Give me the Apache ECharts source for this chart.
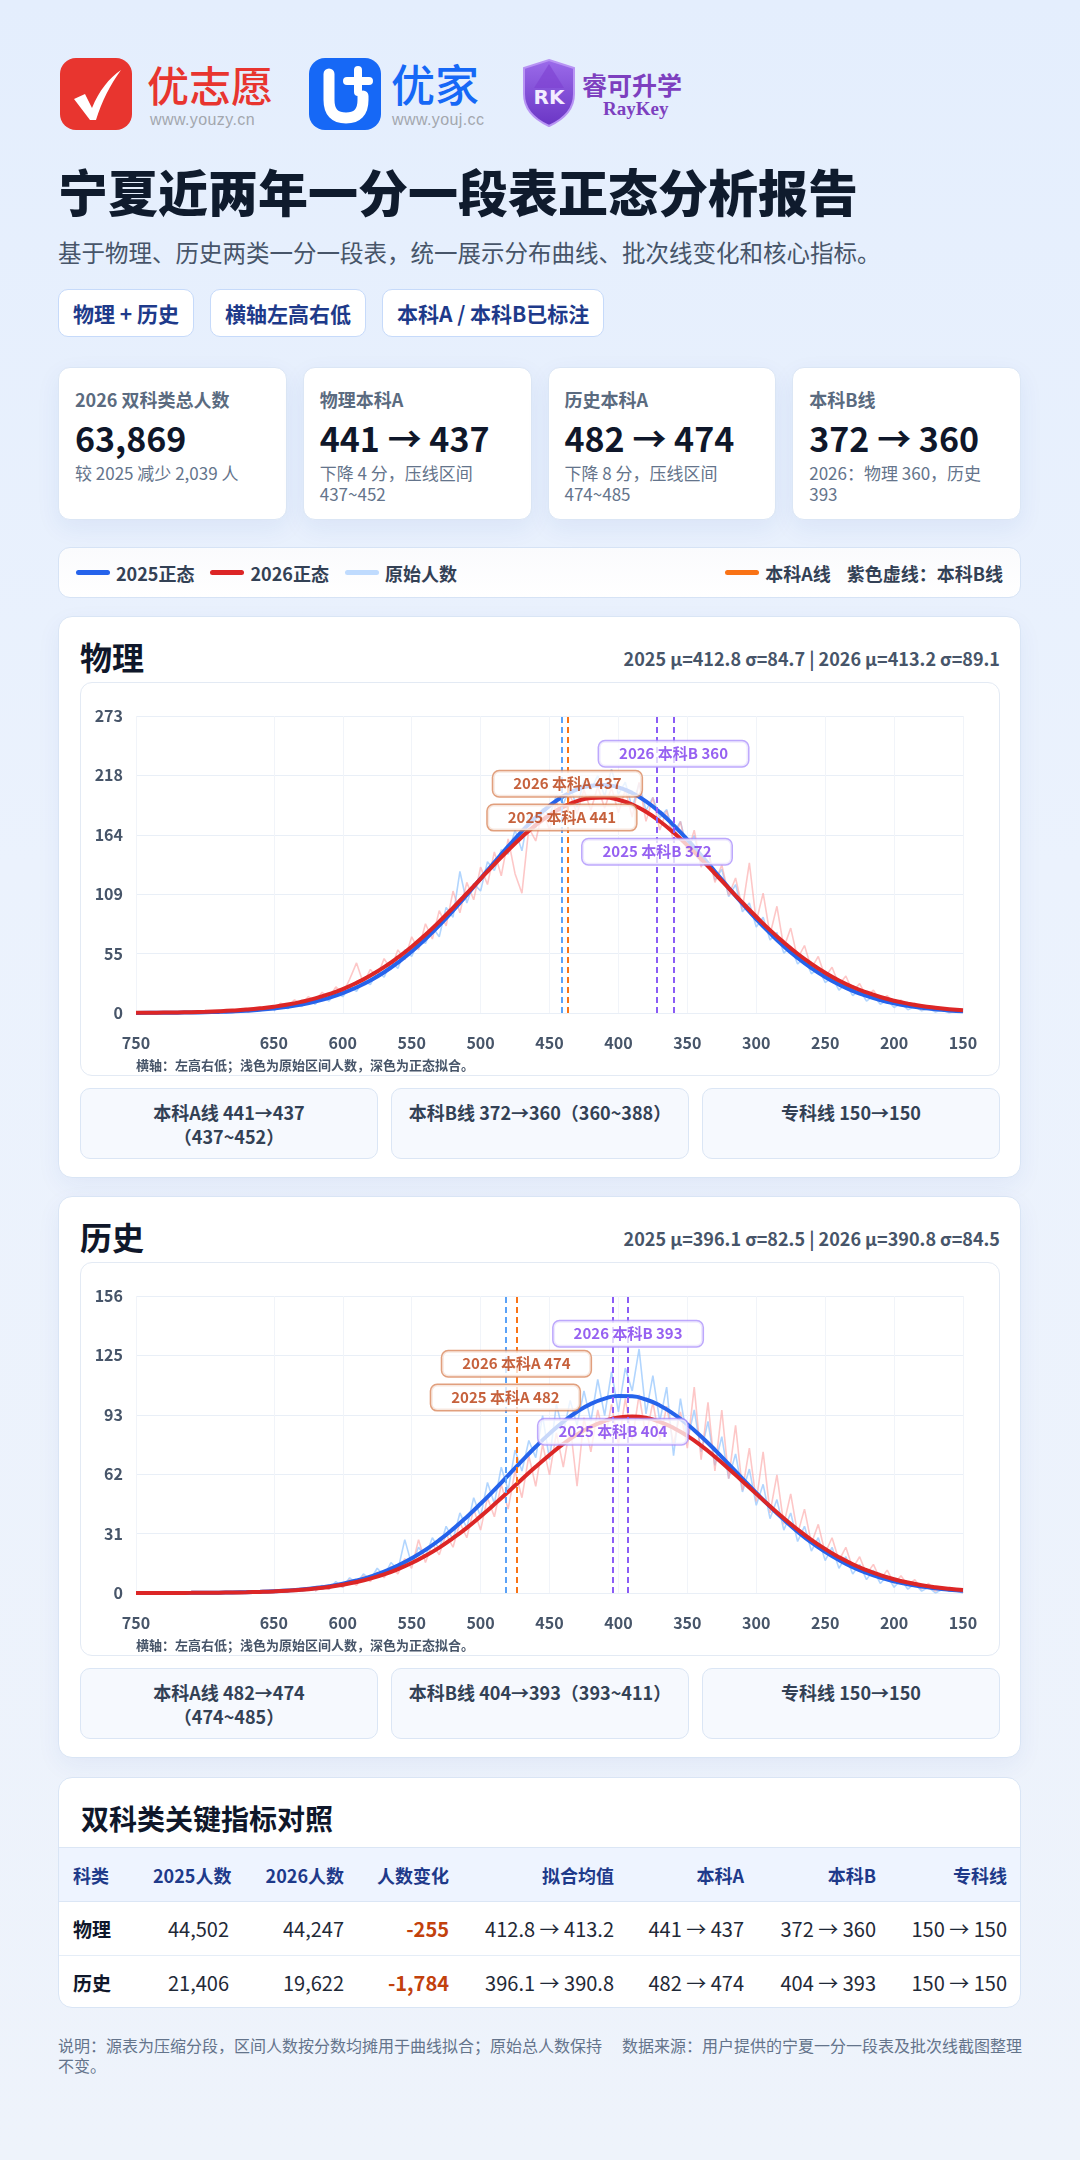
<!DOCTYPE html>
<html lang="zh-CN">
<head>
<meta charset="utf-8">
<title>宁夏近两年一分一段表正态分析报告</title>
<script src="https://cdn.jsdelivr.net/npm/echarts@6.0.0/dist/echarts.min.js"></script>
<style>
*{box-sizing:border-box;margin:0;padding:0}
html,body{width:1080px;height:2160px}
body{font-family:"Noto Sans CJK SC","Noto Sans",sans-serif;background:linear-gradient(180deg,#e4eefd 0%,#ebf2fd 40%,#eef3fb 100%);position:relative;overflow:hidden;color:#0f172a}
.abs{position:absolute}
.brand{font-weight:500;line-height:1}
.url{font-family:"Liberation Sans",Arial,sans-serif;font-size:16px;color:#a3a7ae;letter-spacing:0.4px;line-height:1}
.title{left:58px;top:160px;font-size:50px;font-weight:900;line-height:60px;color:#0f1b2d}
.subtitle{left:58px;top:238px;font-size:23.5px;line-height:28px;color:#475569}
.tags{left:58px;top:289px;display:flex;gap:16px}
.tag{height:48px;border:1px solid #c6dafa;border-radius:10px;background:#fff;padding:0 14px;font-size:21px;font-weight:700;line-height:46px;color:#1e3a8a}
.cards{left:58px;top:367px;width:963px;display:grid;grid-template-columns:repeat(4,1fr);gap:16px}
.card{height:153px;background:#fff;border:1px solid #dbe6f5;border-radius:12px;box-shadow:0 8px 24px rgba(30,64,175,0.07);padding:18px 16px}
.card .lab{font-size:18px;font-weight:700;line-height:26px;color:#5b6b80}
.card .num{font-size:34px;font-weight:700;line-height:44px;margin-top:4px;color:#0f172a}
.card .sub{font-size:17px;line-height:21px;margin-top:2px;color:#64748b}
.legend{left:58px;top:547px;width:963px;height:51px;background:linear-gradient(180deg,#fafbfd,#ffffff);border:1px solid #d6e3f5;border-radius:12px;display:flex;align-items:center;padding:0 17px;font-size:18px;font-weight:700;color:#334155}
.legend .it{display:flex;align-items:center;margin-right:16px}
.legend .ln{width:34px;height:5px;border-radius:3px;margin-right:6px}
.legend .sp{flex:1}
.panel{left:58px;width:963px;height:562px;background:#fff;border:1px solid #d9e5f5;border-radius:14px;box-shadow:0 8px 24px rgba(30,64,175,0.06)}
.ptitle{position:absolute;left:21px;top:19px;font-size:32px;font-weight:700;line-height:40px;color:#0f172a}
.pstat{position:absolute;right:20px;top:29px;font-size:18px;font-weight:700;line-height:24px;color:#475569}
.chartbox{position:absolute;left:21px;top:65px;width:920px;height:394px;border:1px solid #e3eaf4;border-radius:12px;overflow:hidden}
.chart{position:absolute;left:-1px;top:-1px;width:920px;height:394px}
.subcards{position:absolute;left:21px;top:471px;width:920px;display:grid;grid-template-columns:repeat(3,1fr);gap:13px}
.sc{height:71px;background:#f6f9fe;border:1px solid #dbe6f5;border-radius:10px;text-align:center;padding-top:11px;font-size:18px;font-weight:700;line-height:24px;color:#334155;white-space:nowrap}
.tpanel{left:58px;top:1777px;width:963px;height:231px;background:#fff;border:1px solid #d9e5f5;border-radius:14px;overflow:hidden}
.tpanel h2{position:absolute;left:22px;top:20px;font-size:28px;font-weight:700;line-height:40px;color:#0f172a}
table{position:absolute;left:0;top:69px;width:962px;border-collapse:collapse;table-layout:fixed}
th,td{padding:0 14px;text-align:right;white-space:nowrap}
th{height:54px;background:#eef4ff;color:#1e3a8a;font-weight:700;font-size:18px;border-top:1px solid #dbe6f5;border-bottom:1px solid #dbe6f5}
td{height:54px;color:#1f2937;font-size:20px;border-bottom:1px solid #e5edf7}
tr:last-child td{border-bottom:none}
th:first-child,td:first-child{text-align:left}
td.rk{font-weight:700;color:#0f172a;font-size:19px}
td.neg{font-weight:700;color:#c2410c}
.foot{top:2035px;font-size:16px;line-height:20px;color:#64748b}
</style>
</head>
<body>

<!-- brand logos -->
<svg class="abs" style="left:60px;top:58px" width="72" height="72" viewBox="0 0 72 72">
  <rect width="72" height="72" rx="16" fill="#e8352f"/>
  <path d="M14 41 L25 36 L32 50 C39 33 49 20 61 12 C50 27 42 43 36 62 L30 62 Z" fill="#fff"/>
</svg>
<div class="abs brand" style="left:147px;top:63px;font-size:42px;color:#e8352f">优志愿</div>
<div class="abs url" style="left:150px;top:112px">www.youzy.cn</div>

<svg class="abs" style="left:309px;top:58px" width="72" height="72" viewBox="0 0 72 72">
  <rect width="72" height="72" rx="16" fill="#1668f6"/>
  <path d="M20 16 V42 Q20 60 37 60 Q54 60 54 42 V38" fill="none" stroke="#fff" stroke-width="11" stroke-linecap="round"/>
  <path d="M49 12 V34 M38 23 H60" stroke="#fff" stroke-width="8" stroke-linecap="round"/>
</svg>
<div class="abs brand" style="left:391px;top:61px;font-size:44px;color:#1668f6">优家</div>
<div class="abs url" style="left:392px;top:112px">www.youj.cc</div>

<svg class="abs" style="left:520px;top:58px" width="58" height="70" viewBox="0 0 58 70">
  <defs>
    <linearGradient id="sg" x1="0" y1="0" x2="0" y2="1">
      <stop offset="0" stop-color="#9b6bea"/><stop offset="1" stop-color="#6a35c4"/>
    </linearGradient>
  </defs>
  <path d="M29 2 L54 10 V36 C54 52 42 62 29 68 C16 62 4 52 4 36 V10 Z" fill="url(#sg)" stroke="#b894f4" stroke-width="2"/>
  <path d="M29 6 L44 30 L29 30 L14 30 Z" fill="#7d3fd0" opacity="0.6"/>
  <text x="29" y="46" text-anchor="middle" font-family="DejaVu Sans" font-weight="bold" font-size="20" fill="#f3ecff">RK</text>
</svg>
<div class="abs" style="left:582px;top:70px;font-size:25px;font-weight:700;line-height:28px;color:#7d3fbf">睿可升学</div>
<div class="abs" style="left:603px;top:99px;font-family:'Liberation Serif',serif;font-size:19px;font-weight:700;line-height:20px;color:#7d3fbf">RayKey</div>

<div class="abs title">宁夏近两年一分一段表正态分析报告</div>
<div class="abs subtitle">基于物理、历史两类一分一段表，统一展示分布曲线、批次线变化和核心指标。</div>

<div class="abs tags">
  <div class="tag">物理 + 历史</div>
  <div class="tag">横轴左高右低</div>
  <div class="tag">本科A / 本科B已标注</div>
</div>

<div class="abs cards">
  <div class="card"><div class="lab">2026 双科类总人数</div><div class="num">63,869</div><div class="sub">较 2025 减少 2,039 人</div></div>
  <div class="card"><div class="lab">物理本科A</div><div class="num">441 → 437</div><div class="sub">下降 4 分，压线区间 437~452</div></div>
  <div class="card"><div class="lab">历史本科A</div><div class="num">482 → 474</div><div class="sub">下降 8 分，压线区间 474~485</div></div>
  <div class="card"><div class="lab">本科B线</div><div class="num">372 → 360</div><div class="sub">2026：物理 360，历史 393</div></div>
</div>

<div class="abs legend">
  <div class="it"><span class="ln" style="background:#2563eb"></span>2025正态</div>
  <div class="it"><span class="ln" style="background:#dc2626"></span>2026正态</div>
  <div class="it"><span class="ln" style="background:#bfdbfe"></span>原始人数</div>
  <div class="sp"></div>
  <div class="it"><span class="ln" style="background:#f97316"></span>本科A线</div>
  <div class="it" style="margin-right:0">紫色虚线：本科B线</div>
</div>

<div class="abs panel" style="top:616px">
  <div class="ptitle">物理</div>
  <div class="pstat">2025 μ=412.8 σ=84.7 | 2026 μ=413.2 σ=89.1</div>
  <div class="chartbox"><div class="chart" id="chartPhy"></div></div>
  <div class="subcards">
    <div class="sc">本科A线 441→437<br>（437~452）</div>
    <div class="sc">本科B线 372→360（360~388）</div>
    <div class="sc">专科线 150→150</div>
  </div>
</div>

<div class="abs panel" style="top:1196px">
  <div class="ptitle">历史</div>
  <div class="pstat">2025 μ=396.1 σ=82.5 | 2026 μ=390.8 σ=84.5</div>
  <div class="chartbox"><div class="chart" id="chartHis"></div></div>
  <div class="subcards">
    <div class="sc">本科A线 482→474<br>（474~485）</div>
    <div class="sc">本科B线 404→393（393~411）</div>
    <div class="sc">专科线 150→150</div>
  </div>
</div>

<div class="abs tpanel">
  <h2>双科类关键指标对照</h2>
  <table>
    <colgroup><col style="width:80px"><col style="width:104px"><col style="width:115px"><col style="width:105px"><col style="width:165px"><col style="width:130px"><col style="width:132px"><col style="width:131px"></colgroup>
    <thead><tr><th>科类</th><th>2025人数</th><th>2026人数</th><th>人数变化</th><th>拟合均值</th><th>本科A</th><th>本科B</th><th>专科线</th></tr></thead>
    <tbody>
      <tr><td class="rk">物理</td><td>44,502</td><td>44,247</td><td class="neg">-255</td><td>412.8 → 413.2</td><td>441 → 437</td><td>372 → 360</td><td>150 → 150</td></tr>
      <tr><td class="rk">历史</td><td>21,406</td><td>19,622</td><td class="neg">-1,784</td><td>396.1 → 390.8</td><td>482 → 474</td><td>404 → 393</td><td>150 → 150</td></tr>
    </tbody>
  </table>
</div>

<div class="abs foot" style="left:58px;width:552px">说明：源表为压缩分段，区间人数按分数均摊用于曲线拟合；原始总人数保持不变。</div>
<div class="abs foot" style="left:622px;width:410px;white-space:nowrap">数据来源：用户提供的宁夏一分一段表及批次线截图整理</div>

<script>
// ---------- data ----------
const X_TICKS = [750, 650, 600, 550, 500, 450, 400, 350, 300, 250, 200, 150];

const CURVE_X = [750,740,730,720,710,700,690,680,670,660,650,640,630,620,610,600,590,580,570,560,550,540,530,520,510,500,490,480,470,460,450,440,430,420,410,400,390,380,370,360,350,340,330,320,310,300,290,280,270,260,250,240,230,220,210,200,190,180,170,160,150];

const PHY_FIT_2025 = [0.08,0.12,0.19,0.29,0.44,0.67,0.99,1.45,2.08,2.96,4.15,5.74,7.82,10.5,13.9,18.2,23.5,29.8,37.4,46.3,56.4,67.9,80.4,94.1,108.5,123.4,138.4,153.0,166.9,179.5,190.3,199.1,205.3,208.8,209.5,207.2,202.1,194.4,184.5,172.6,159.2,144.8,130.0,115.0,100.4,86.3,73.3,61.3,50.6,41.2,33.1,26.2,20.4,15.7,11.9,8.9,6.6,4.8,3.4,2.4,1.7];
const PHY_FIT_2026 = [0.16,0.24,0.36,0.53,0.77,1.11,1.59,2.24,3.11,4.28,5.80,7.76,10.3,13.4,17.3,22.0,27.7,34.4,42.1,51.0,60.9,71.9,83.9,96.6,109.8,123.3,136.6,149.5,161.7,172.6,181.9,189.3,194.6,197.5,198.0,195.9,191.5,184.8,176.1,165.7,154.0,141.4,128.1,114.6,101.3,88.4,76.1,64.8,54.4,45.2,37.0,29.9,23.9,18.9,14.7,11.3,8.6,6.4,4.8,3.5,2.5];
const HIS_FIT_2025 = [0.01,0.02,0.03,0.05,0.07,0.12,0.18,0.28,0.42,0.62,0.91,1.31,1.86,2.60,3.59,4.88,6.54,8.62,11.2,14.4,18.2,22.6,27.7,33.5,39.9,46.8,54.1,61.7,69.3,76.7,83.6,89.8,95.1,99.2,102.0,103.4,103.2,101.5,98.4,94.0,88.5,82.1,75.1,67.6,60.0,52.5,45.3,38.5,32.2,26.5,21.6,17.3,13.6,10.6,8.13,6.14,4.56,3.35,2.42,1.72,1.21];
const HIS_FIT_2026 = [0.01,0.02,0.03,0.05,0.07,0.11,0.18,0.26,0.39,0.58,0.84,1.20,1.68,2.34,3.20,4.32,5.75,7.55,9.77,12.5,15.7,19.5,23.8,28.8,34.2,40.2,46.5,53.0,59.7,66.2,72.4,78.2,83.2,87.2,90.2,92.1,92.6,91.9,89.8,86.6,82.4,77.3,71.5,65.2,58.6,52.0,45.5,39.2,33.3,27.9,23.1,18.8,15.1,12.0,9.39,7.24,5.50,4.12,3.05,2.22,1.60];

const PHY_RAW_X = [650,645,640,635,630,625,620,615,610,605,600,595,590,585,580,575,570,565,560,555,550,545,540,535,530,525,520,515,510,505,500,495,490,485,480,475,470,465,460,455,450,445,440,435,430,425,420,415,410,405,400,395,390,385,380,375,370,365,360,355,350,345,340,335,330,325,320,315,310,305,300,295,290,285,280,275,270,265,260,255,250,245,240,235,230,225,220,215,210,205,200,195,190,185,180,175,170,165,160,155,150];
const PHY_RAW_2025 = [2,7,4,9,6,12,8,15,11,19, 15,24,20,30,26,38,33,47,41,58, 52,66,64,79,70,97,88,130,101,119, 112,139,131,150,146,168,149,184,170,188, 181,200,192,207,189,214,205,218,199,224, 201,212,188,211,186,198,179,187,165,176, 150,163,136,149,122,132,107,118,93,101, 79,88,67,74,55,61,45,51,36,41, 28,33,21,27,16,21,11,16,8,12, 5,9,3,6,2,4,1,3,0,2, 1];
const PHY_RAW_2026 = [4,9,6,12,8,15,11,19,14,24, 18,31,46,27,40,33,50,40,58,49, 70,58,82,68,94,80,112,92,120,104, 134,118,148,126,160,128,110,170,158,186, 168,194,176,200,183,205,186,208,188,207, 184,205,180,212,176,198,168,186,157,176, 146,168,134,150,120,136,108,124,96,138, 84,110,72,98,60,78,50,62,41,52, 33,42,26,34,20,27,15,21,11,16, 8,12,5,9,3,6,2,4,1,3, 2];

const HIS_RAW_X = [620,615,610,605,600,595,590,585,580,575,570,565,560,555,550,545,540,535,530,525,520,515,510,505,500,495,490,485,480,475,470,465,460,455,450,445,440,435,430,425,420,415,410,405,400,395,390,385,380,375,370,365,360,355,350,345,340,335,330,325,320,315,310,305,300,295,290,285,280,275,270,265,260,255,250,245,240,235,230,225,220,215,210,205,200,195,190,185,180,175,170,165,160,155,150];
const HIS_RAW_2025 = [1,4,2,6,3,8,5,10,7,13, 9,16,12,28,15,24,19,29,23,35, 28,42,34,50,40,58,47,66,54,75, 64,80,71,93,70,99,84,101,88,106, 90,112,93,116,95,118,106,128,94,114, 90,108,72,102,80,96,74,90,67,82, 60,73,53,65,46,57,39,49,33,42, 27,35,22,29,17,24,13,19,10,15, 7,12,5,9,3,7,2,5,1,3, 0,2,1,1,0];
const HIS_RAW_2026 = [1,3,2,5,3,7,4,9,6,11, 8,14,10,18,13,28,16,26,20,31, 24,37,29,44,33,50,40,57,44,64, 50,72,56,78,62,84,66,88,56,92, 74,96,80,99,78,102,80,104,82,100, 80,98,78,95,76,108,70,100,64,96, 60,88,54,76,48,74,42,62,36,52, 31,44,26,36,21,29,17,24,13,19, 10,15,7,12,5,9,4,7,2,5, 1,3,1,2,0];

const CUT_NAMES = ['2025 本科A', '2026 本科A', '2025 本科B', '2026 本科B'];
const PHY_CUTS = [441, 437, 372, 360];
const HIS_CUTS = [482, 474, 404, 393];

const PHY_YMAX = 272.8;
const HIS_YMAX = 155.8;

// ---------- styles ----------
const FONT = '"Noto Sans CJK SC","Noto Sans",sans-serif';
const CUT_LINE_COLORS = ['#5aa2f8', '#f97316', '#8b5cf6', '#8b5cf6'];
const CUT_LABEL_LEVEL = [0.658, 0.772, 0.543, 0.873];
const CUT_LABEL_TEXT = ['#b83a0b', '#b83a0b', '#7c3aed', '#7c3aed'];
const CUT_LABEL_BORDER = ['#d9875c', '#d9875c', '#ad92fb', '#ad92fb'];

function pairs(xs, ys) { return xs.map((x, i) => [x, ys[i]]); }

function buildOption(raw25, raw26, rawX, fit25, fit26, cuts, ymax) {
  return {
    animation: false,
    textStyle: { fontFamily: FONT },
    grid: { left: 56, right: 37, top: 34, bottom: 63 },
    xAxis: {
      type: 'value', inverse: true, min: 150, max: 750, interval: 50,
      axisLine: { show: false }, axisTick: { show: false, customValues: X_TICKS },
      axisLabel: { customValues: X_TICKS, color: '#475569', fontSize: 16, fontWeight: 'bold', margin: 22, fontFamily: FONT },
      splitLine: { show: true, lineStyle: { color: '#f1f4f9', width: 1 } }
    },
    yAxis: {
      type: 'value', min: 0, max: ymax, interval: ymax / 5,
      axisLine: { show: false }, axisTick: { show: false },
      axisLabel: { color: '#475569', fontSize: 16, fontWeight: 'bold', margin: 13, fontFamily: FONT, formatter: v => Math.round(v) },
      splitLine: { lineStyle: { color: '#e9eff7', width: 1.2 } }
    },
    graphic: [{
      type: 'text', left: 56, top: 377,
      style: { text: '横轴：左高右低；浅色为原始区间人数，深色为正态拟合。', fill: '#475569', font: 'bold 13px ' + FONT }
    }],
    series: [
      { type: 'line', name: '2025原始', data: pairs(rawX, raw25), showSymbol: false, z: 1,
        lineStyle: { color: 'rgba(147,197,253,0.72)', width: 1.6 } },
      { type: 'line', name: '2026原始', data: pairs(rawX, raw26), showSymbol: false, z: 1,
        lineStyle: { color: 'rgba(252,165,165,0.62)', width: 1.6 } },
      { type: 'line', name: '2025正态', data: pairs(CURVE_X, fit25), showSymbol: false, smooth: true, z: 3,
        lineStyle: { color: '#2563eb', width: 4 } },
      { type: 'line', name: '2026正态', data: pairs(CURVE_X, fit26), showSymbol: false, smooth: true, z: 4,
        lineStyle: { color: '#dc2626', width: 4 } },
      { type: 'line', name: '批次线', data: [], z: 5,
        markLine: {
          silent: true, symbol: 'none', label: { show: false },
          data: cuts.map((c, i) => ({ xAxis: c, lineStyle: { color: CUT_LINE_COLORS[i], type: [6, 4], width: 2 } }))
        } },
      { type: 'scatter', name: '批次线标签', symbolSize: 0, z: 6,
        data: cuts.map((c, i) => ({
          value: [c, ymax * CUT_LABEL_LEVEL[i]],
          label: {
            show: true, position: 'inside', formatter: CUT_NAMES[i] + ' ' + c,
            color: CUT_LABEL_TEXT[i], fontSize: 15, fontWeight: 700, fontFamily: FONT,
            backgroundColor: 'rgba(255,255,255,0.94)', borderColor: CUT_LABEL_BORDER[i], borderWidth: 1.5,
            borderRadius: 6, padding: [5, 20]
          }
        }))
      }
    ]
  };
}

const chartPhy = echarts.init(document.getElementById('chartPhy'));
chartPhy.setOption(buildOption(PHY_RAW_2025, PHY_RAW_2026, PHY_RAW_X, PHY_FIT_2025, PHY_FIT_2026, PHY_CUTS, PHY_YMAX));
const chartHis = echarts.init(document.getElementById('chartHis'));
chartHis.setOption(buildOption(HIS_RAW_2025, HIS_RAW_2026, HIS_RAW_X, HIS_FIT_2025, HIS_FIT_2026, HIS_CUTS, HIS_YMAX));
</script>
</body>
</html>
